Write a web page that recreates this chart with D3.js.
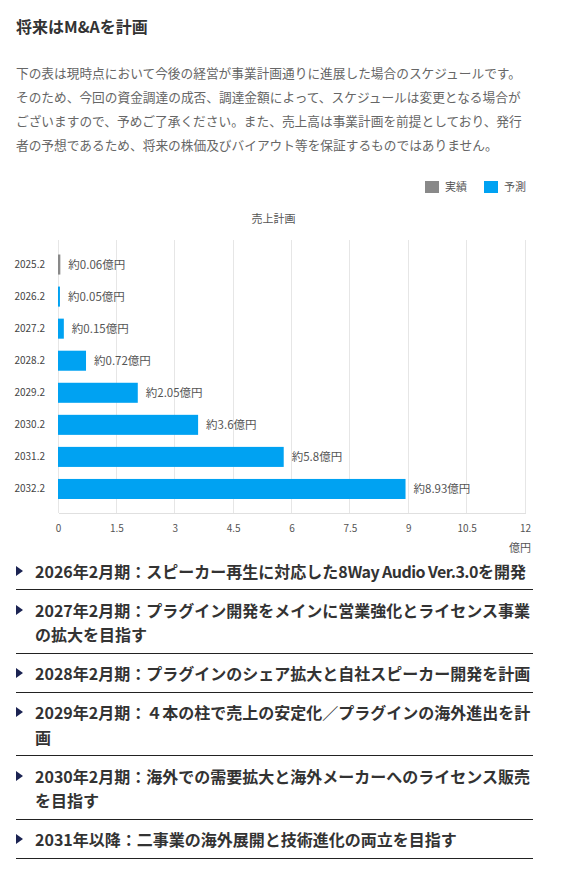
<!DOCTYPE html>
<html>
<head>
<meta charset="utf-8">
<script src="https://cdn.jsdelivr.net/npm/d3@7"></script>
<style>
  body { margin: 0; background: #fff; font-family: "Noto Sans CJK JP", "Noto Sans", sans-serif; }
  #page { position: relative; width: 562px; height: 870px; overflow: hidden; }
  .heading { position: absolute; left: 16px; top: 14px; font-size: 16px; line-height: 24px; font-weight: bold; color: #333; }
  .lead { position: absolute; left: 16px; top: 61px; font-size: 12.7px; line-height: 24px; color: #666; white-space: nowrap; }
  #chart { position: absolute; left: 0; top: 0; }
  #plans { position: absolute; left: 16px; top: 551px; width: 517px; margin: 0; padding: 0; list-style: none; }
  #plans li { position: relative; padding: 7.75px 0 5.75px 19px; border-bottom: 1px solid #222;
              font-size: 16px; line-height: 24.5px; font-weight: bold; color: #333; white-space: nowrap; }
  #plans li::before { content: ""; position: absolute; left: 0; top: 14.5px; border-left: 7px solid #1b2352;
                      border-top: 5px solid transparent; border-bottom: 5px solid transparent; }
  #plans .latin { letter-spacing: -0.55px; }
</style>
</head>
<body>
<div id="page">
  <div class="heading">将来はM&amp;Aを計画</div>
  <div class="lead" id="lead"></div>
  <svg id="chart" width="562" height="560"></svg>
  <ul id="plans"></ul>
</div>
<script>
// chart data
const periods = ['2025.2', '2026.2', '2027.2', '2028.2', '2029.2', '2030.2', '2031.2', '2032.2'];
const sales = [0.06, 0.05, 0.15, 0.72, 2.05, 3.6, 5.8, 8.93];
const kinds = ['実績', '予測', '予測', '予測', '予測', '予測', '予測', '予測'];
const xTicks = [0, 1.5, 3, 4.5, 6, 7.5, 9, 10.5, 12];
const legendNames = ['実績', '予測'];

// page text
const leadLines = [
  '下の表は現時点において今後の経営が事業計画通りに進展した場合のスケジュールです。',
  'そのため、今回の資金調達の成否、調達金額によって、スケジュールは変更となる場合が',
  'ございますので、予めご了承ください。また、売上高は事業計画を前提としており、発行',
  '者の予想であるため、将来の株価及びバイアウト等を保証するものではありません。'
];
const plans = [
  ['2026年2月期：スピーカー再生に対応した8Way Audio Ver.3.0を開発'],
  ['2027年2月期：プラグイン開発をメインに営業強化とライセンス事業', 'の拡大を目指す'],
  ['2028年2月期：プラグインのシェア拡大と自社スピーカー開発を計画'],
  ['2029年2月期：４本の柱で売上の安定化／プラグインの海外進出を計', '画'],
  ['2030年2月期：海外での需要拡大と海外メーカーへのライセンス販売', 'を目指す'],
  ['2031年以降：二事業の海外展開と技術進化の両立を目指す']
];

d3.select('#lead').html(leadLines.join('<br>'));
// narrow the long latin run a little, the original font is tighter there
const tighten = s => s.replace(/([A-Za-z][A-Za-z0-9. ]{3,})/g, '<span class="latin">$1</span>');
d3.select('#plans').selectAll('li')
  .data(plans)
  .enter()
  .append('li')
  .html(d => d.map(tighten).join('<br>'));

const svg = d3.select('#chart');
const font = '"Noto Sans CJK JP", sans-serif';
const color = d3.scaleOrdinal().domain(legendNames).range(['#898989', '#00a2f2']);

const x = d3.scaleLinear().domain([0, 12]).range([58, 525]);
const y = d3.scaleBand()
  .domain(periods)
  .range([248.5, 505])
  .paddingInner(0.375)
  .paddingOuter(0.1875);
const gridTop = 240, gridBottom = 513;

// legend
const legend = svg.append('g').attr('font-family', font).attr('font-size', '11px').attr('fill', '#555');
const legendX = [425, 484];
legendNames.forEach((name, i) => {
  legend.append('rect')
    .attr('x', legendX[i]).attr('y', 181)
    .attr('width', 14).attr('height', 12)
    .attr('fill', color(name));
  legend.append('text')
    .attr('x', legendX[i] + 20).attr('y', 187)
    .attr('dy', '0.35em')
    .text(name);
});

// title
svg.append('text')
  .attr('x', 273.5).attr('y', 219)
  .attr('dy', '0.35em')
  .attr('text-anchor', 'middle')
  .attr('font-family', font).attr('font-size', '11px').attr('fill', '#555')
  .text('売上計画');

// vertical grid
svg.append('g')
  .selectAll('line')
  .data(xTicks)
  .enter()
  .append('line')
  .attr('x1', d => x(d)).attr('x2', d => x(d))
  .attr('y1', gridTop).attr('y2', gridBottom)
  .attr('stroke', '#e6e6e6')
  .attr('shape-rendering', 'crispEdges');

// x axis
const xAxis = svg.append('g')
  .attr('transform', `translate(0,${gridBottom})`)
  .call(d3.axisBottom(x).tickValues(xTicks).tickSize(0).tickPadding(12).tickFormat(d3.format('')));
xAxis.select('.domain').attr('stroke', '#e0e0e0').attr('shape-rendering', 'crispEdges');
xAxis.selectAll('text').attr('font-family', font).attr('font-size', '10px').attr('fill', '#555');

svg.append('text')
  .attr('x', 531).attr('y', 548)
  .attr('dy', '0.35em')
  .attr('text-anchor', 'end')
  .attr('font-family', font).attr('font-size', '11px').attr('fill', '#555')
  .text('億円');

// y axis
const yAxis = svg.append('g')
  .attr('transform', `translate(${x(0)},0)`)
  .call(d3.axisLeft(y).tickSize(0).tickPadding(13));
yAxis.select('.domain').remove();
yAxis.selectAll('text').attr('font-family', font).attr('font-size', '10px').attr('fill', '#444');

// bars
const rows = periods.map((p, i) => ({ period: p, value: sales[i], kind: kinds[i] }));
svg.append('g')
  .selectAll('rect')
  .data(rows)
  .enter()
  .append('rect')
  .attr('x', x(0))
  .attr('y', d => y(d.period))
  .attr('width', d => x(d.value) - x(0))
  .attr('height', y.bandwidth())
  .attr('fill', d => color(d.kind));

// value labels
svg.append('g')
  .selectAll('text')
  .data(rows)
  .enter()
  .append('text')
  .attr('x', d => x(d.value) + 8)
  .attr('y', d => y(d.period) + y.bandwidth() / 2)
  .attr('dy', '0.35em')
  .attr('font-family', font).attr('font-size', '11.5px').attr('fill', '#555')
  .text(d => `約${d.value}億円`);
</script>
</body>
</html>
